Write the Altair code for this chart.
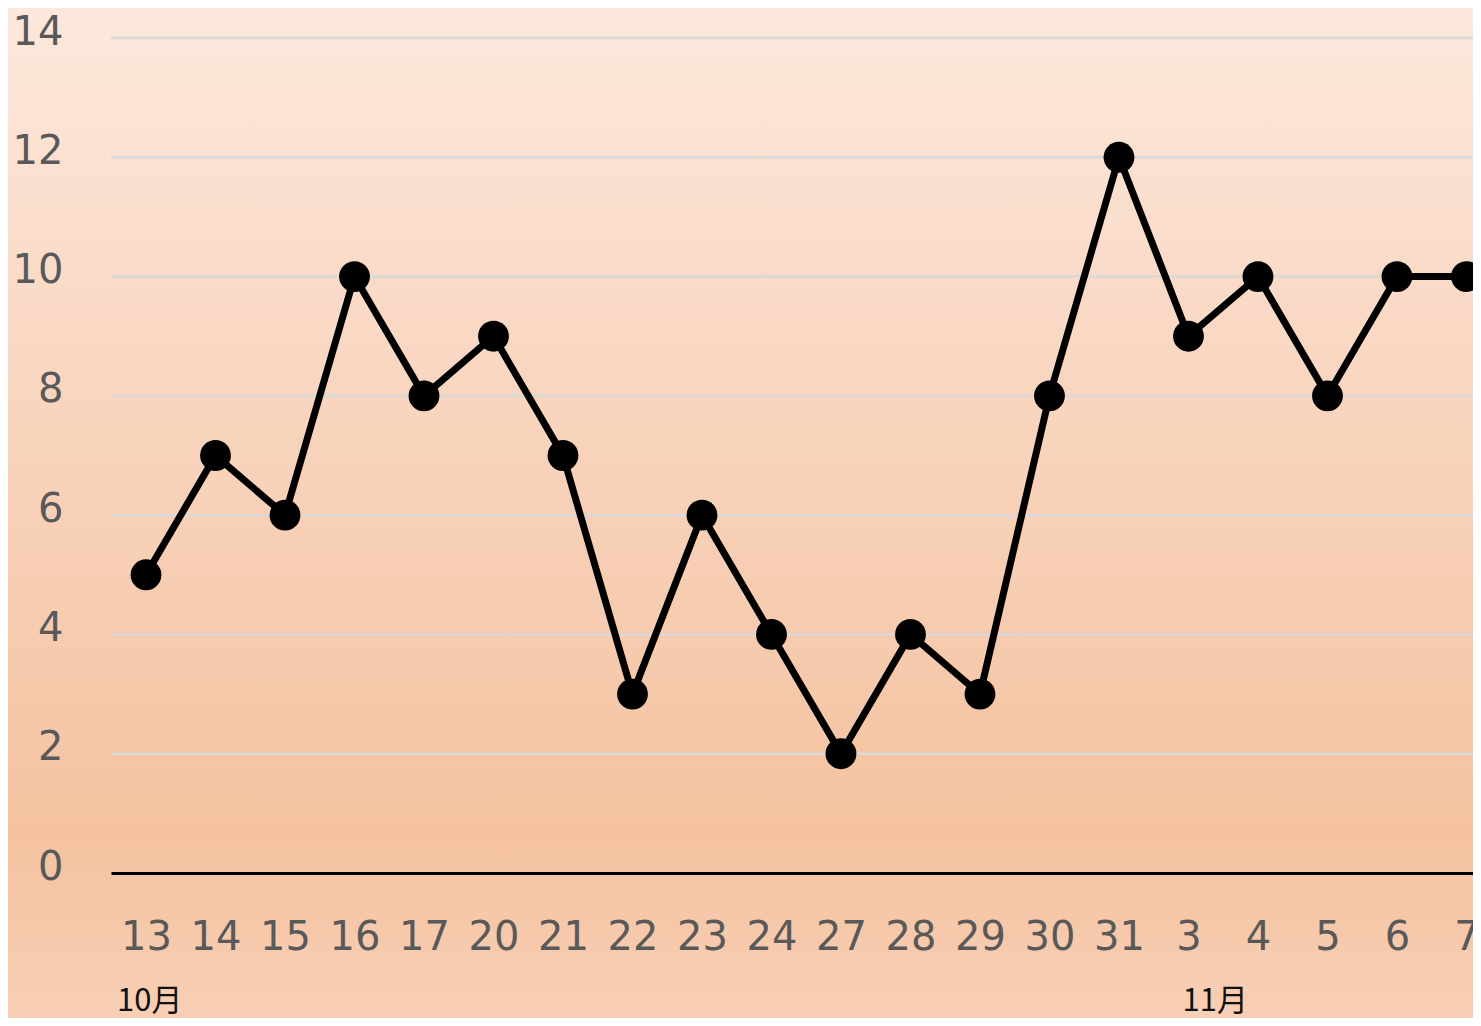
import altair as alt
import pandas as pd

days = ["13", "14", "15", "16", "17", "20", "21", "22", "23", "24",
        "27", "28", "29", "30", "31", "3", "4", "5", "6", "7"]
values = [5, 7, 6, 10, 8, 9, 7, 3, 6, 4, 2, 4, 3, 8, 12, 9, 10, 8, 10, 10]
months = ["10月", "11月"]
month_first_day = ["13", "3"]
y_ticks = [0, 2, 4, 6, 8, 10, 12, 14]

df = pd.DataFrame({"idx": list(range(len(days))), "day": days, "value": values})

W, H = 1362, 835
PAD = {"left": 103, "top": 30, "right": 0, "bottom": 145}

label_expr = "[" + ",".join("'%s'" % d for d in days) + "][datum.value]"

x_scale = alt.Scale(domain=[-0.5036, 19.094], nice=False, zero=False)
y_scale = alt.Scale(domain=[0, 14], nice=False)

x_axis = alt.Axis(
    values=list(range(len(days))), labelExpr=label_expr, title=None,
    grid=False, ticks=False, domain=True, domainColor="#000000", domainWidth=3,
    labelFont="DejaVu Sans", labelFontSize=40, labelColor="#595959",
    labelPadding=44, labelFlush=False, labelOverlap=False, zindex=1,
)
y_axis = alt.Axis(
    values=y_ticks, title=None, grid=False, format="d",
    ticks=False, domain=False, labelFont="DejaVu Sans", labelFontSize=40,
    labelColor="#595959", labelPadding=48, labelOffset=-6, zindex=1,
)

bg = alt.Chart(pd.DataFrame({"a": [0]})).mark_rect(
    fill=alt.Gradient(
        gradient="linear",
        stops=[
            alt.GradientStop(color="#FDE8DC", offset=0),
            alt.GradientStop(color="#F9D7C2", offset=0.35),
            alt.GradientStop(color="#F4C2A0", offset=0.82),
            alt.GradientStop(color="#F8CFB5", offset=1),
        ],
        x1=0, x2=0, y1=0, y2=1,
    ),
    clip=False,
).encode(
    x=alt.value(-PAD["left"]), x2=alt.value(W + 20),
    y=alt.value(-PAD["top"]), y2=alt.value(H + PAD["bottom"]),
)

grid = alt.Chart(pd.DataFrame({"t": y_ticks[1:]})).mark_rule(
    color="#D9D9D9", strokeWidth=2.5
).encode(
    y=alt.Y("t:Q", scale=y_scale, axis=y_axis),
    x=alt.value(0), x2=alt.value(W),
)

base = alt.Chart(df)
line = base.mark_line(color="#000000", strokeWidth=7).encode(
    x=alt.X("idx:Q", scale=x_scale, axis=x_axis),
    y=alt.Y("value:Q", scale=y_scale, axis=y_axis),
)
pts = base.mark_point(filled=True, color="#000000", size=950, opacity=1, shape="circle").encode(
    x=alt.X("idx:Q", scale=x_scale),
    y=alt.Y("value:Q", scale=y_scale),
)

mdf = pd.DataFrame({"month": months, "first": month_first_day})
mdf["idx"] = [days.index(d) for d in month_first_day]

m1 = alt.Chart(mdf.iloc[[0]]).mark_text(
    align="left", baseline="alphabetic", font="Noto Sans CJK JP", fontSize=31,
    color="#111111", dx=-29,
).encode(x=alt.X("idx:Q", scale=x_scale), y=alt.value(H + 138), text="month:N")
m2 = alt.Chart(mdf.iloc[[1]]).mark_text(
    align="left", baseline="alphabetic", font="Noto Sans CJK JP", fontSize=31,
    color="#111111", dx=-6,
).encode(x=alt.X("idx:Q", scale=x_scale), y=alt.value(H + 138), text="month:N")

chart = alt.layer(bg, grid, line, pts, m1, m2).properties(
    width=W, height=H, padding=PAD, autosize=alt.AutoSizeParams(type="none"),
    background="#F8CFB5",
).configure_view(stroke=None)

chart.save("out.html", embed_options={"renderer": "svg", "actions": False})
